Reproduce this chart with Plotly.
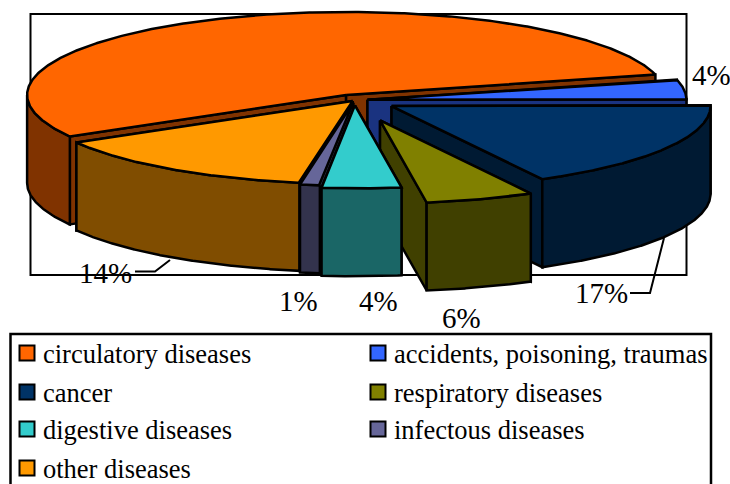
import numpy as np
import plotly.graph_objects as go

categories = ["circulatory diseases", "accidents, poisoning, traumas", "cancer",
              "respiratory diseases", "digestive diseases", "infectous diseases", "other diseases"]
shares = [54.4, 3.8, 17.3, 5.5, 4.0, 1.0, 14.0]
percent_labels = ["", "4%", "17%", "6%", "4%", "1%", "14%"]
top_colors = ["#FF6600", "#3366FF", "#003366", "#808000", "#33CCCC", "#666699", "#FF9900"]
side_colors = ["#803300", "#1A3380", "#001A33", "#404000", "#1A6666", "#33334D", "#804D00"]
explode = [0.07, 0.041, 0.135, 0.255, 0.06, 0.03, 0.01]

CX, CY = 354.5, 100.3
A, B, DEPTH = 319.0, 83.0, 88.0
START = 210.0
FONT = "Liberation Serif, Times New Roman, serif"
LW = 2.5

fig = go.Figure()


def poly(xs, ys, color):
    fig.add_trace(go.Scatter(x=list(xs), y=list(ys), mode="lines", fill="toself", fillcolor=color,
                             line=dict(color="black", width=LW), hoverinfo="skip", showlegend=False))


total = sum(shares)
edges = [START]
for s in shares:
    edges.append(edges[-1] - s / total * 360.0)

for i in [0, 1, 2, 3, 6, 5, 4]:
    t0, t1 = edges[i], edges[i + 1]
    mid = np.radians((t0 + t1) / 2)
    tx = CX + explode[i] * A * np.cos(mid)
    ty = CY - explode[i] * B * np.sin(mid)
    ts = np.radians(np.linspace(t0, t1, 400))
    ax = tx + A * np.cos(ts)
    ay = ty - B * np.sin(ts)
    for px, py in ((ax[0], ay[0]), (ax[-1], ay[-1])):
        poly([tx, px, px, tx, tx], [ty, py, py + DEPTH, ty + DEPTH, ty], side_colors[i])
    front = np.sin(ts) <= 1e-9
    if front.any():
        fx, fy = ax[front], ay[front]
        poly(np.r_[fx, fx[::-1], fx[0]], np.r_[fy, fy[::-1] + DEPTH, fy[0]], side_colors[i])
    poly(np.r_[tx, ax, tx], np.r_[ty, ay, ty], top_colors[i])

# percent labels
label_xy = [None, (711, 75), (601, 293), (461, 318), (378, 301), (298, 301), (105, 273)]
annotations = []
for lab, xy in zip(percent_labels, label_xy):
    if xy:
        annotations.append(dict(x=xy[0], y=xy[1], text=lab, showarrow=False, xref="x", yref="y",
                                xanchor="center", yanchor="middle",
                                font=dict(family=FONT, size=29, color="black")))

# legend
leg_x = [27, 27, 27, 27, 378, 378, 378]
leg_y = [353, 392, 429, 468, 353, 392, 429]
leg_order = [0, 2, 4, 6, 1, 3, 5]
for k, i in enumerate(leg_order):
    fig.add_trace(go.Scatter(x=[leg_x[k]], y=[leg_y[k]], mode="markers",
                             marker=dict(symbol="square", size=15, color=top_colors[i],
                                         line=dict(color="black", width=2)),
                             hoverinfo="skip", showlegend=False))
    annotations.append(dict(x=leg_x[k] + 13.5, y=leg_y[k] + 1, text=categories[i], showarrow=False,
                            xanchor="left", yanchor="middle", xref="x", yref="y",
                            font=dict(family=FONT, size=26.5, color="black")))

line = dict(color="black", width=2)
shapes = [
    dict(type="rect", x0=30.5, y0=14, x1=686.5, y1=275, line=line, layer="below"),
    dict(type="path", path="M 135 271.5 L 155 271.5 L 170 260", line=line, layer="below"),
    dict(type="path", path="M 630 293 L 650 293 L 664 238", line=line, layer="below"),
    dict(type="rect", x0=10.5, y0=334, x1=711, y1=495, line=dict(color="black", width=2.5), layer="below"),
]

fig.update_layout(
    width=730, height=484, margin=dict(l=0, r=0, t=0, b=0),
    paper_bgcolor="white", plot_bgcolor="white",
    xaxis=dict(range=[0, 730], visible=False, fixedrange=True),
    yaxis=dict(range=[484, 0], visible=False, fixedrange=True),
    annotations=annotations, shapes=shapes, showlegend=False,
)
fig.write_html("out.html", post_script="document.body.style.margin='0';", config={"displayModeBar": False})
